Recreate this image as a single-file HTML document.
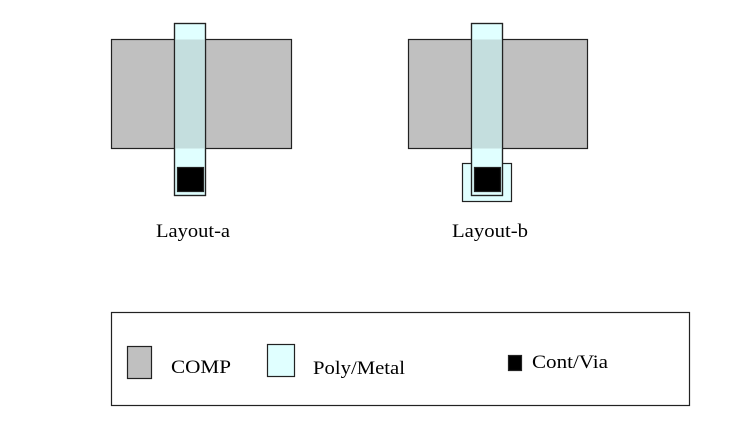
<!DOCTYPE html>
<html><head><meta charset="utf-8"><style>
html,body{margin:0;padding:0;background:#fff;width:743px;height:445px;overflow:hidden}
text{font-family:"Liberation Serif",serif;fill:#000}
</style></head><body>
<svg width="743" height="445" viewBox="0 0 743 445" xmlns="http://www.w3.org/2000/svg">
<g stroke="#222" stroke-width="1.2">
<rect x="111.5" y="39.5" width="180" height="109" fill="#c0c0c0"/>
<rect x="174.5" y="23.5" width="31" height="172" fill="#e0ffff"/>
<rect x="174.5" y="39.5" width="31" height="109" fill="#c4dede" stroke="none"/>
<rect x="174.5" y="23.5" width="31" height="172" fill="none"/>
<rect x="177.5" y="167.5" width="26" height="24" fill="#000"/>
<rect x="408.5" y="39.5" width="179" height="109" fill="#c0c0c0"/>
<rect x="462.5" y="163.5" width="49" height="38" fill="#e0ffff"/>
<rect x="471.5" y="23.5" width="31" height="172" fill="#e0ffff"/>
<rect x="471.5" y="39.5" width="31" height="109" fill="#c4dede" stroke="none"/>
<rect x="471.5" y="23.5" width="31" height="172" fill="none"/>
<rect x="474.5" y="167.5" width="26" height="24" fill="#000"/>
<rect x="111.5" y="312.5" width="578" height="93" fill="#fff"/>
<rect x="127.5" y="346.5" width="24" height="32" fill="#c0c0c0"/>
<rect x="267.5" y="344.5" width="27" height="32" fill="#e0ffff"/>
<rect x="508.5" y="355.5" width="13" height="15" fill="#000"/>
</g>
<text x="156" y="237" font-size="19" textLength="74" lengthAdjust="spacingAndGlyphs">Layout-a</text>
<text x="452" y="237" font-size="19" textLength="76" lengthAdjust="spacingAndGlyphs">Layout-b</text>
<text x="171" y="373" font-size="19" textLength="60" lengthAdjust="spacingAndGlyphs">COMP</text>
<text x="313" y="374" font-size="19" textLength="92" lengthAdjust="spacingAndGlyphs">Poly/Metal</text>
<text x="532" y="368" font-size="19" textLength="76" lengthAdjust="spacingAndGlyphs">Cont/Via</text>
</svg>
</body></html>
